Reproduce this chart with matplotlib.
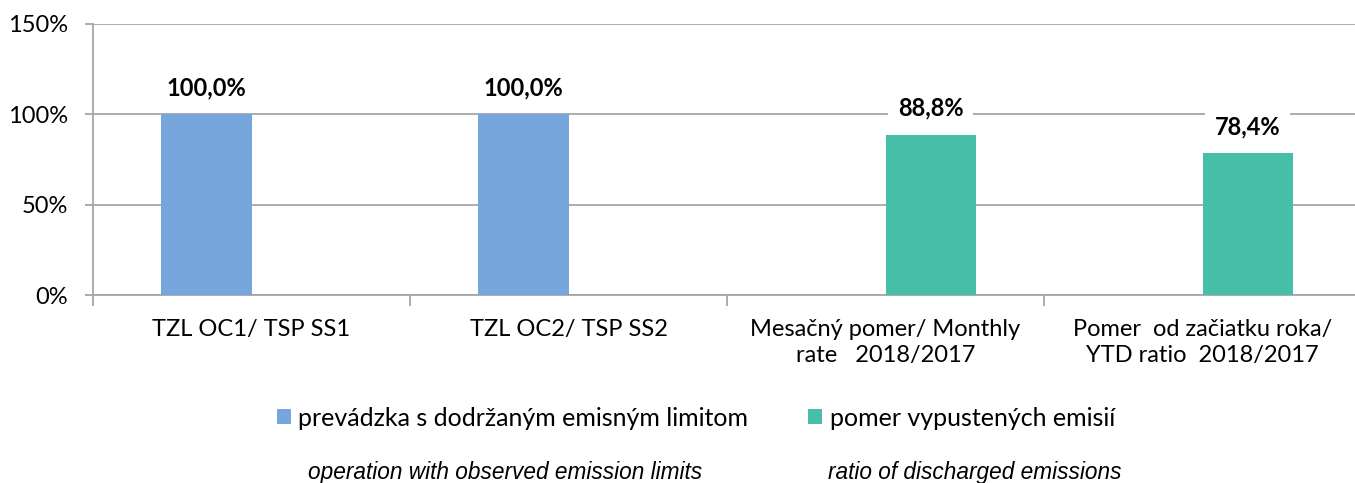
import numpy as np
import matplotlib
matplotlib.use("Agg")
import matplotlib.pyplot as plt
from matplotlib.ticker import FixedLocator, PercentFormatter

categories = ["TZL OC1/ TSP SS1", "TZL OC2/ TSP SS2",
              "Mesačný pomer/ Monthly\nrate   2018/2017",
              "Pomer  od začiatku roka/\nYTD ratio  2018/2017"]
series_names = ["prevádzka s dodržaným emisným limitom", "pomer vypustených emisií"]
series_en = ["operation with observed emission limits", "ratio of discharged emissions"]
blue_vals = [100.0, 100.0, np.nan, np.nan]
teal_vals = [np.nan, np.nan, 88.8, 78.4]
yticks = [0, 50, 100, 150]

BLUE = "#77A6DC"
TEAL = "#47BFA7"
GRID = "#A6A6A6"

plt.rcParams['font.family'] = ['Lato', 'DejaVu Sans']

fig = plt.figure(figsize=(13.55, 4.83), dpi=100)
ax = fig.add_axes([93 / 1355, 1 - 295 / 483, 1268 / 1355, 271 / 483])

x = np.arange(len(categories))
w = 0.284
b1 = ax.bar(x - w / 2, blue_vals, w, color=BLUE, label=series_names[0], zorder=3)
b2 = ax.bar(x + w / 2, teal_vals, w, color=TEAL, label=series_names[1], zorder=3)

# data labels with white box that cuts the gridline
for bars, vals in ((b1, blue_vals), (b2, teal_vals)):
    for rect, v in zip(bars, vals):
        if np.isnan(v):
            continue
        ax.annotate(f"{v:.1f}%".replace(".", ","),
                    (rect.get_x() + rect.get_width() / 2, v),
                    xytext=(0, 19), textcoords="offset points",
                    ha="center", va="center", fontsize=17, fontweight="bold",
                    bbox=dict(facecolor="white", edgecolor="none", pad=7),
                    zorder=4)

ax.set_xlim(-0.5, len(categories) - 0.5)
ax.set_ylim(0, 150)
ax.yaxis.set_major_locator(FixedLocator(yticks))
ax.yaxis.set_major_formatter(PercentFormatter(decimals=0))
ax.grid(axis="y", color=GRID, linewidth=1.3, zorder=0)

ax.set_xticks(x)
ax.set_xticklabels(categories, fontsize=17, linespacing=1.3)
ax.set_xticks(np.arange(len(categories) + 1) - 0.5, minor=True)
ax.tick_params(axis="x", which="major", length=0, pad=17)
ax.tick_params(axis="x", which="minor", length=8, width=1.3, color=GRID)
ax.tick_params(axis="y", length=6, width=1.3, color=GRID, labelsize=17, pad=12)

for s in ("top", "right"):
    ax.spines[s].set_visible(False)
for s in ("left", "bottom"):
    ax.spines[s].set_color(GRID)
    ax.spines[s].set_linewidth(1.3)

handles = [b1, b2]
fig.legend(handles, series_names, loc="center", bbox_to_anchor=(696 / 1355, 1 - 418 / 483),
           ncol=2, frameon=False, fontsize=18, handlelength=0.56, handleheight=0.56,
           handletextpad=0.3, columnspacing=2.4, borderpad=0)

fig.text(505 / 1355, 1 - 473 / 483, series_en[0], ha="center", va="center",
         fontsize=16.3, style="italic", family="Liberation Sans")
fig.text(975 / 1355, 1 - 473 / 483, series_en[1], ha="center", va="center",
         fontsize=16.3, style="italic", family="Liberation Sans")

fig.savefig("out.png", dpi=100)
